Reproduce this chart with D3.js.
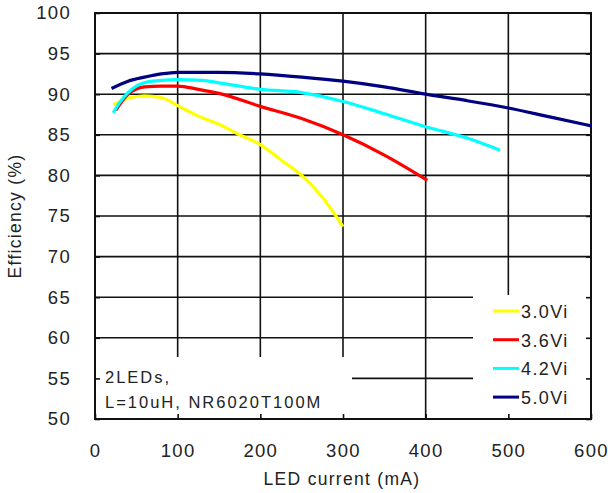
<!DOCTYPE html>
<html>
<head>
<meta charset="utf-8">
<script src="https://cdn.jsdelivr.net/npm/d3@7"></script>
<style>
  body { margin: 0; background: #fff; }
  text { font-family: "Liberation Sans", Arial, sans-serif; fill: #222; }
</style>
</head>
<body>
<script>
// series data (x = LED current mA, y = efficiency %)
var seriesNames = ["3.0Vi", "3.6Vi", "4.2Vi", "5.0Vi"];
var seriesColors = ["#ffff00", "#ff0000", "#00ffff", "#000080"];

var current30 = [22, 40, 60, 80, 100, 125, 150, 175, 200, 225, 250, 275, 300];
var eff30     = [88.7, 89.5, 89.8, 89.6, 88.6, 87.3, 86.3, 85.0, 83.8, 81.9, 80.0, 77.3, 73.7];

var current36 = [25, 40, 60, 80, 100, 125, 150, 200, 250, 300, 350, 402];
var eff36     = [88.0, 90.0, 90.9, 91.0, 91.0, 90.6, 90.1, 88.5, 87.0, 85.0, 82.5, 79.4];

var current42 = [22, 30, 40, 50, 70, 100, 130, 150, 200, 250, 300, 350, 400, 450, 490];
var eff42     = [87.7, 89.0, 90.2, 91.0, 91.6, 91.8, 91.7, 91.4, 90.6, 90.2, 89.1, 87.6, 86.0, 84.6, 83.1];

var current50 = [20, 40, 60, 80, 100, 150, 200, 250, 300, 350, 400, 450, 500, 550, 600];
var eff50     = [90.7, 91.6, 92.1, 92.5, 92.7, 92.7, 92.5, 92.1, 91.6, 90.9, 90.0, 89.2, 88.3, 87.2, 86.1];

var xTicks = [0, 100, 200, 300, 400, 500, 600];
var yTicks = [50, 55, 60, 65, 70, 75, 80, 85, 90, 95, 100];

var notes = ["2LEDs,", "L=10uH, NR6020T100M"];

var w = 608, h = 493;
var pLeft = 95, pTop = 13, pRight = 591, pBottom = 419;

var x = d3.scaleLinear().domain([0, 600]).range([pLeft, pRight]);
var y = d3.scaleLinear().domain([50, 100]).range([pBottom, pTop]);

var svg = d3.select("body").append("svg")
  .attr("width", w)
  .attr("height", h);

// grid
svg.selectAll("line.hgrid").data(yTicks).enter().append("line")
  .attr("class", "hgrid")
  .attr("x1", pLeft).attr("x2", pRight)
  .attr("y1", function(d){ return y(d); })
  .attr("y2", function(d){ return y(d); })
  .attr("stroke", "#111").attr("stroke-width", 1.6);

svg.selectAll("line.vgrid").data(xTicks).enter().append("line")
  .attr("class", "vgrid")
  .attr("y1", pTop).attr("y2", pBottom)
  .attr("x1", function(d){ return x(d); })
  .attr("x2", function(d){ return x(d); })
  .attr("stroke", "#111").attr("stroke-width", 1.6);

// white boxes behind the note and the legend
svg.append("rect")
  .attr("x", pLeft).attr("y", 357)
  .attr("width", 352 - pLeft).attr("height", pBottom - 357)
  .attr("fill", "#fff");
svg.append("rect")
  .attr("x", 473).attr("y", 295)
  .attr("width", pRight - 473).attr("height", pBottom - 295)
  .attr("fill", "#fff");

// inward ticks
var tickLen = 5;
function styleTicks(g) {
  g.select(".domain").remove();
  g.selectAll("line").attr("stroke", "#111").attr("stroke-width", 1.6);
}
svg.append("g")
  .attr("transform", "translate(0," + pBottom + ")")
  .call(d3.axisBottom(x).tickValues(xTicks).tickSizeInner(-tickLen).tickSizeOuter(0).tickFormat(""))
  .call(styleTicks);
svg.append("g")
  .attr("transform", "translate(" + pLeft + ",0)")
  .call(d3.axisLeft(y).tickValues(yTicks).tickSizeInner(-tickLen).tickSizeOuter(0).tickFormat(""))
  .call(styleTicks);
svg.append("g")
  .attr("transform", "translate(" + pRight + ",0)")
  .call(d3.axisRight(y).tickValues(yTicks).tickSizeInner(-tickLen).tickSizeOuter(0).tickFormat(""))
  .call(styleTicks);

// frame
svg.append("rect")
  .attr("x", pLeft).attr("y", pTop)
  .attr("width", pRight - pLeft).attr("height", pBottom - pTop)
  .attr("fill", "none").attr("stroke", "#111").attr("stroke-width", 2);

// tick labels
function styleLabels(g) {
  g.select(".domain").remove();
  g.selectAll("text").attr("font-size", 18.5).attr("letter-spacing", 1.3)
    .style("font-family", "Liberation Sans, Arial, sans-serif").attr("fill", "#222");
}
svg.append("g")
  .attr("transform", "translate(0," + pBottom + ")")
  .call(d3.axisBottom(x).tickValues(xTicks).tickSize(0).tickPadding(25))
  .call(styleLabels);
svg.append("g")
  .attr("transform", "translate(" + pLeft + ",0)")
  .call(d3.axisLeft(y).tickValues(yTicks).tickSize(0).tickPadding(24))
  .call(styleLabels);

// axis titles
svg.append("text")
  .attr("x", 342).attr("y", 485)
  .attr("text-anchor", "middle")
  .attr("font-size", 17.5).attr("letter-spacing", 1.3)
  .text("LED current (mA)");
svg.append("text")
  .attr("transform", "translate(21," + ((pTop + pBottom) / 2) + ") rotate(-90)")
  .attr("text-anchor", "middle")
  .attr("font-size", 17.5).attr("letter-spacing", 1.3)
  .text("Efficiency (%)");

// curves
var allCurrents = [current30, current36, current42, current50];
var allEffs = [eff30, eff36, eff42, eff50];
var line = d3.line()
  .x(function(d){ return x(d[0]); })
  .y(function(d){ return y(d[1]); })
  .curve(d3.curveMonotoneX);

seriesNames.forEach(function(name, i){
  var pts = allCurrents[i].map(function(c, j){ return [c, allEffs[i][j]]; });
  svg.append("path")
    .datum(pts)
    .attr("d", line)
    .attr("fill", "none")
    .attr("stroke", seriesColors[i])
    .attr("stroke-width", 3.2);
});

// legend
var legend = svg.selectAll("g.leg").data(seriesNames).enter().append("g")
  .attr("class", "leg")
  .attr("transform", function(d, i){ return "translate(493," + (311 + i * 28.7) + ")"; });
legend.append("line")
  .attr("x1", 0).attr("x2", 26).attr("y1", 0).attr("y2", 0)
  .attr("stroke", function(d, i){ return seriesColors[i]; })
  .attr("stroke-width", 3);
legend.append("text")
  .attr("x", 28).attr("y", 7)
  .attr("font-size", 18).attr("letter-spacing", 1.4)
  .text(function(d){ return d; });

// note
svg.selectAll("text.note").data(notes).enter().append("text")
  .attr("class", "note")
  .attr("x", 105)
  .attr("y", function(d, i){ return 383 + i * 25; })
  .attr("font-size", 16.5).attr("letter-spacing", 2)
  .text(function(d){ return d; });
</script>
</body>
</html>
